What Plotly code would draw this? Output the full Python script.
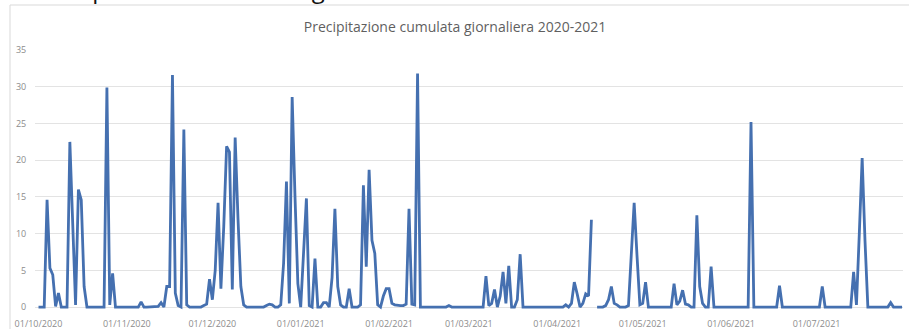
import pandas as pd
import plotly.graph_objects as go

# Daily cumulative precipitation (mm), 1 Oct 2020 - 31 Jul 2021, one list per month
ottobre = [0, 0, 0, 14.6, 5.3, 4.4, 0.1, 1.9, 0, 0, 0, 22.5, 11, 0.3, 16.0, 14.6,
           2.8, 0, 0, 0, 0, 0, 0, 0, 29.9, 0.3, 4.6, 0, 0, 0, 0]
novembre = [0, 0, 0, 0, 0, 0.7, 0, 0, 0, 0, 0, 0.1, 0.6, 0, 2.8, 2.8, 31.6, 1.9,
            0.2, 0, 24.2, 0.3, 0, 0, 0, 0, 0, 0.2, 0.4, 3.8]
dicembre = [1.0, 5.0, 14.2, 2.5, 11, 21.9, 21.1, 2.4, 23.1, 12, 2.8, 0.3, 0, 0, 0,
            0, 0, 0, 0, 0.2, 0.4, 0.3, 0, 0, 0.3, 6, 17.1, 0.5, 28.6, 15, 3.2]
gennaio = [0, 7, 14.8, 0.2, 0, 6.6, 0, 0, 0.6, 0.6, 0, 4, 13.4, 2.8, 0.3, 0, 0,
           2.5, 0, 0, 0, 0.3, 16.6, 5.5, 18.7, 9.1, 7.3, 0.3, 0, 1.5, 2.5]
febbraio = [2.5, 0.5, 0.3, 0.2, 0.2, 0.2, 0.4, 13.4, 0.4, 0.3, 31.8, 0, 0, 0, 0,
            0, 0, 0, 0, 0, 0, 0.2, 0, 0, 0, 0, 0, 0]
marzo = [0, 0, 0, 0, 0, 0, 4.2, 0.2, 0.5, 2.4, 0, 1.5, 4.8, 0.5, 5.6, 0, 0, 1,
         7.2, 0, 0, 0, 0, 0, 0, 0, 0, 0, 0, 0, 0]
aprile = [0, 0, 0, 0.3, 0, 0.5, 3.4, 1.8, 0, 0.5, 1.8, 1.5, 11.9, None, 0, 0, 0,
          0.2, 1, 2.8, 0.5, 0.3, 0, 0, 0, 0.2, 7, 14.2, 7, 0.3]
maggio = [0.5, 3.4, 0, 0, 0, 0, 0, 0, 0, 0, 0, 3.2, 0.3, 0.8, 2.3, 0.4, 0.3, 0,
          0, 12.5, 2.8, 0.5, 0, 0, 5.5, 0, 0, 0, 0, 0, 0]
giugno = [0, 0, 0, 0, 0, 0, 0, 25.2, 0, 0, 0, 0, 0, 0, 0, 0, 0, 2.9, 0, 0, 0, 0,
          0, 0, 0, 0, 0, 0, 0, 0]
luglio = [0, 0, 2.8, 0, 0, 0, 0, 0, 0, 0, 0, 0, 0, 4.8, 0.3, 10, 20.3, 9, 0, 0,
          0, 0, 0, 0, 0, 0, 0.6, 0, 0, 0, 0]

valori = (ottobre + novembre + dicembre + gennaio + febbraio + marzo +
          aprile + maggio + giugno + luglio)
date = pd.date_range("2020-10-01", periods=len(valori), freq="D")

titolo = "Precipitazione cumulata giornaliera 2020-2021"
didascalia = "Precipitazione cumulata giornaliera"

# geometry of the plotting area (pixels)
W, H = 910, 329
ML, MR, MT, MB = 35, 7, 50, 19
PW, PH = W - ML - MR, H - MT - MB
PX_PER_DAY = 2.85
x0 = pd.Timestamp("2020-10-01") - pd.Timedelta(days=1.23)
x1 = x0 + pd.Timedelta(days=PW / PX_PER_DAY)

fig = go.Figure()
fig.add_trace(go.Scatter(
    x=date, y=valori, mode="lines",
    line=dict(color="#4570b0", width=2.8),
    connectgaps=False, showlegend=False,
))

tick_font = dict(family="Open Sans", size=9, color="#8c8c8c")

fig.update_layout(
    width=W, height=H,
    margin=dict(l=ML, r=MR, t=MT, b=MB),
    paper_bgcolor="white", plot_bgcolor="white",
    title=dict(text=titolo, x=0.5, xref="container", xanchor="center",
               y=1 - 27 / H, yref="container", yanchor="middle",
               font=dict(family="Open Sans", size=14, color="#5f5f5f")),
    xaxis=dict(
        type="date", range=[x0.isoformat(), x1.isoformat()],
        tick0="2020-10-01", dtick="M1", tickformat="%d/%m/%Y",
        showgrid=False, zeroline=False, showline=False,
        ticks="outside", ticklen=5, tickcolor="rgba(0,0,0,0)",
        tickfont=tick_font, automargin=False,
    ),
    yaxis=dict(
        range=[-0.4, 35.02], tickvals=[0, 5, 10, 15, 20, 25, 30, 35],
        showgrid=True, gridcolor="#e3e3e3", gridwidth=1,
        zeroline=False, showline=False,
        ticks="outside", ticklen=6, tickcolor="rgba(0,0,0,0)",
        tickfont=tick_font, automargin=False,
    ),
)

# light frame of the chart area (top and left edges)
fx = lambda px: (px - ML) / PW
fy = lambda py: (H - MB - py) / PH
frame = dict(color="#d9d9d9", width=1)
fig.add_shape(type="line", xref="paper", yref="paper",
              x0=fx(10), x1=fx(909), y0=fy(5), y1=fy(5), line=frame)
fig.add_shape(type="line", xref="paper", yref="paper",
              x0=fx(10), x1=fx(10), y0=fy(5), y1=fy(335), line=frame)

# document caption running above the chart, only its lower edge in view
fig.add_annotation(text=didascalia, xref="paper", yref="paper",
                   x=fx(35), y=fy(7), xanchor="left", yanchor="bottom",
                   showarrow=False,
                   font=dict(family="Open Sans", size=24, color="#111111"))

fig.write_html("out.html")
